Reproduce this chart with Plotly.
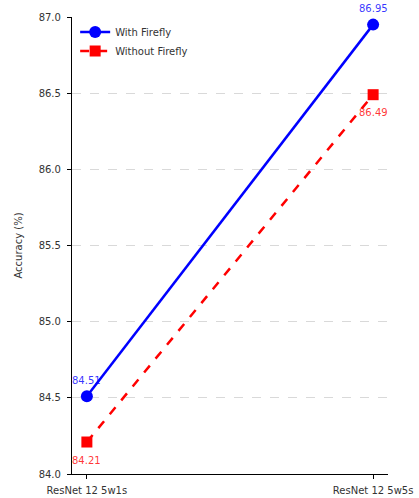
import plotly.graph_objects as go

categories = ["ResNet 12 5w1s", "ResNet 12 5w5s"]
with_firefly = [84.51, 86.95]
without_firefly = [84.21, 86.49]
y_ticks = [84.0, 84.5, 85.0, 85.5, 86.0, 86.5, 87.0]

xs = list(range(len(categories)))

fig = go.Figure()
fig.add_trace(go.Scatter(
    x=xs, y=with_firefly, name="With Firefly", mode="lines+markers",
    line=dict(color="blue", width=2.5),
    marker=dict(symbol="circle", size=12, color="blue"),
    cliponaxis=False,
))
fig.add_trace(go.Scatter(
    x=xs, y=without_firefly, name="Without Firefly", mode="lines+markers",
    line=dict(color="red", width=2.5, dash="dash"),
    marker=dict(symbol="square", size=11, color="red"),
    cliponaxis=False,
))

for x, v in zip(xs, with_firefly):
    fig.add_annotation(x=x, y=v, text=f"{v:.2f}", showarrow=False, yshift=16,
                       font=dict(color="rgba(0,0,255,0.8)", size=10, family="DejaVu Sans"))
for x, v in zip(xs, without_firefly):
    fig.add_annotation(x=x, y=v, text=f"{v:.2f}", showarrow=False, yshift=-18,
                       font=dict(color="rgba(255,0,0,0.8)", size=10, family="DejaVu Sans"))

fig.update_layout(
    width=419, height=498,
    margin=dict(l=72, r=31, t=17, b=24, autoexpand=False),
    paper_bgcolor="white", plot_bgcolor="white",
    font=dict(family="DejaVu Sans", size=10, color="#333333"),
    showlegend=True,
    legend=dict(x=0.01, y=0.999, xanchor="left", yanchor="top",
                bgcolor="rgba(255,255,255,0)", font=dict(size=10, color="#333333"),
                tracegroupgap=0),
)
fig.update_xaxes(
    range=[-0.052, 1.052], tickmode="array", tickvals=xs, ticktext=categories,
    showgrid=False, zeroline=False, showline=True, linecolor="black", linewidth=1.2,
    ticks="outside", ticklen=4, tickcolor="black", automargin=False,
    ticklabelstandoff=3,
)
fig.update_yaxes(
    range=[84.0, 87.0], tickmode="array", tickvals=y_ticks,
    ticktext=[f"{v:.1f}" for v in y_ticks],
    showgrid=True, gridcolor="#d9d9d9", griddash="dash", gridwidth=1,
    zeroline=False, showline=True, linecolor="black", linewidth=1.2,
    ticks="outside", ticklen=4, tickcolor="black", automargin=False,
    ticklabelstandoff=4,
    title=dict(text="Accuracy (%)", font=dict(size=10, color="#333333"), standoff=14),
)

fig.write_html("out.html", config={"displayModeBar": False},
               post_script="document.body.style.margin='0';document.body.style.overflow='hidden';")
